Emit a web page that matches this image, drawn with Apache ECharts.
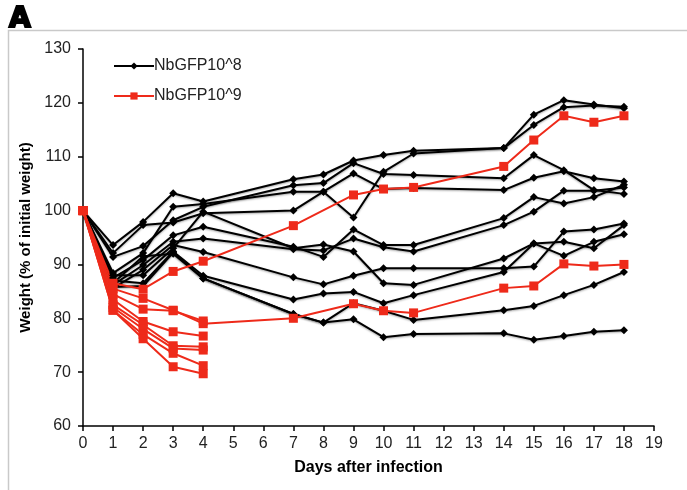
<!DOCTYPE html>
<html>
<head>
<meta charset="utf-8">
<script src="https://cdn.jsdelivr.net/npm/echarts@6/dist/echarts.min.js"></script>
<style>
  html, body { margin: 0; padding: 0; background: #fff; }
  #main { width: 687px; height: 490px; }
</style>
</head>
<body>
<div id="main"></div>
<script>
// days on which the mice were weighed
var daysLow = [0, 1, 2, 3, 4, 7, 8, 9, 10, 11, 14, 15, 16, 17, 18];
var daysHigh = [0, 1, 2, 3, 4, 7, 9, 10, 11, 14, 15, 16, 17, 18];
var daysShort = [0, 1, 2, 3, 4];

// NbGFP10^8 - one array per mouse (weight, % of initial)
var low1 = [100, 93.6, 97.9, 103.2, 101.7, 105.8, 106.7, 109.3, 110.3, 111.1, 111.6, 117.8, 120.5, 119.7, 119.0];
var low2 = [100, 92.1, 97.3, 97.8, 99.5, 100.0, 103.5, 98.7, 107.2, 110.6, 111.6, 115.9, 119.2, 119.5, 119.3];
var low3 = [100, 91.4, 93.4, 98.2, 100.7, 104.7, 105.1, 108.8, 106.8, 106.6, 106.0, 110.3, 107.5, 103.8, 103.1];
var low4 = [100, 88.4, 92.1, 100.7, 101.2, 103.5, 103.5, 106.9, 104.0, 104.2, 103.8, 106.1, 107.3, 106.0, 105.4];
var low5 = [100, 87.5, 90.8, 95.4, 97.0, 93.3, 91.4, 96.5, 93.6, 93.6, 98.6, 102.5, 101.3, 102.5, 104.8];
var low6 = [100, 86.2, 89.9, 94.2, 94.8, 92.8, 92.6, 94.8, 93.2, 92.4, 97.3, 99.8, 103.7, 103.7, 104.3];
var low7 = [100, 85.6, 89.0, 93.6, 92.3, 87.6, 86.3, 87.9, 89.3, 89.3, 89.3, 89.6, 96.1, 96.5, 97.6];
var low8 = [100, 88.0, 88.0, 93.0, 99.8, 93.0, 93.7, 92.4, 86.5, 86.2, 91.1, 93.9, 94.2, 93.0, 97.3];
var low9 = [100, 87.0, 86.5, 92.4, 87.9, 83.5, 84.6, 84.9, 82.8, 84.3, 88.6, 93.9, 91.6, 94.2, 95.6];
var low10 = [100, 86.5, 91.5, 92.0, 87.4, 80.8, 79.2, 82.8, 81.4, 79.7, 81.5, 82.3, 84.3, 86.2, 88.6];
var low11 = [100, 85.8, 86.0, 92.2, 87.4, 80.8, 79.2, 79.8, 76.5, 77.1, 77.2, 76.0, 76.7, 77.5, 77.8];

// NbGFP10^9 - survivors and mice lost after day 4
var high1 = [100, 86.5, 85.4, 88.7, 90.6, 97.2, 102.9, 104.0, 104.3, 108.2, 113.1, 117.6, 116.4, 117.6];
var high2 = [100, 85.5, 83.7, 81.5, 79.0, 80.0, 82.7, 81.4, 81.0, 85.6, 86.0, 90.1, 89.7, 90.0];
var high3 = [100, 84.5, 81.7, 81.4, 79.5];
var high4 = [100, 83.5, 79.4, 77.5, 76.7];
var high5 = [100, 82.5, 78.8, 74.9, 74.7];
var high6 = [100, 82.0, 78.0, 74.4, 74.1];
var high7 = [100, 81.5, 77.0, 73.5, 71.2];
var high8 = [100, 81.5, 76.2, 71.0, 69.7];

var lowGroup = [low1, low2, low3, low4, low5, low6, low7, low8, low9, low10, low11];
var highGroup = [[high1, daysHigh], [high2, daysHigh], [high3, daysShort], [high4, daysShort],
                 [high5, daysShort], [high6, daysShort], [high7, daysShort], [high8, daysShort]];

var BLACK = '#000000';
var RED = '#ee2a1a';

function pairs(days, vals) {
    return vals.map(function (v, i) { return [days[i], v]; });
}

var series = [];
lowGroup.forEach(function (vals) {
    series.push({
        name: 'NbGFP10^8',
        type: 'line',
        symbol: 'diamond',
        symbolSize: 8,
        lineStyle: { color: BLACK, width: 2, shadowColor: 'rgba(0,0,0,0.35)', shadowBlur: 2, shadowOffsetY: 1 },
        itemStyle: { color: BLACK },
        data: pairs(daysLow, vals)
    });
});
highGroup.forEach(function (h) {
    series.push({
        name: 'NbGFP10^9',
        type: 'line',
        symbol: 'rect',
        symbolSize: 9,
        z: 3,
        lineStyle: { color: RED, width: 2 },
        itemStyle: { color: RED },
        data: pairs(h[1], h[0])
    });
});

var myChart = echarts.init(document.getElementById('main'));
var option = {
    animation: false,
    textStyle: { fontFamily: 'Liberation Sans, Arial, sans-serif' },
    graphic: [
        { type: 'rect', shape: { x: 8.5, y: 30.5, width: 700, height: 500 },
          style: { fill: 'none', stroke: '#c9c9c9', lineWidth: 1.5 } },
        { type: 'text', x: 9, y: 6,
          style: { text: 'A', font: 'bold 28px "DejaVu Sans", sans-serif', fill: '#000',
                   stroke: '#000', lineWidth: 2, verticalAlign: 'top', align: 'left' } }
    ],
    legend: {
        orient: 'vertical',
        left: 108,
        top: 53,
        itemWidth: 40,
        itemHeight: 9,
        itemGap: 14,
        textStyle: { fontSize: 16, color: '#222', padding: [0, 0, 0, -5] },
        data: ['NbGFP10^8', 'NbGFP10^9']
    },
    grid: { left: 83, right: 33, top: 49, bottom: 64 },
    xAxis: {
        type: 'value',
        min: 0,
        max: 19,
        interval: 1,
        name: 'Days after infection',
        nameLocation: 'middle',
        nameGap: 34,
        nameTextStyle: { fontSize: 16, fontWeight: 'bold', color: '#000' },
        axisLine: { lineStyle: { color: '#000', width: 1.5 } },
        axisTick: { length: 5, lineStyle: { color: '#000', width: 1.5 } },
        axisLabel: { fontSize: 16, color: '#222', margin: 10 },
        splitLine: { show: false }
    },
    yAxis: {
        type: 'value',
        min: 60,
        max: 130,
        interval: 10,
        name: 'Weight (% of initial weight)',
        nameLocation: 'middle',
        nameGap: 42,
        nameTextStyle: { fontSize: 15, fontWeight: 'bold', color: '#000' },
        axisLine: { show: true, lineStyle: { color: '#000', width: 1.5 } },
        axisTick: { show: true, length: 5, lineStyle: { color: '#000', width: 1.5 } },
        axisLabel: { fontSize: 16, color: '#222', margin: 12 },
        splitLine: { show: false }
    },
    series: series
};
myChart.setOption(option);
</script>
</body>
</html>
